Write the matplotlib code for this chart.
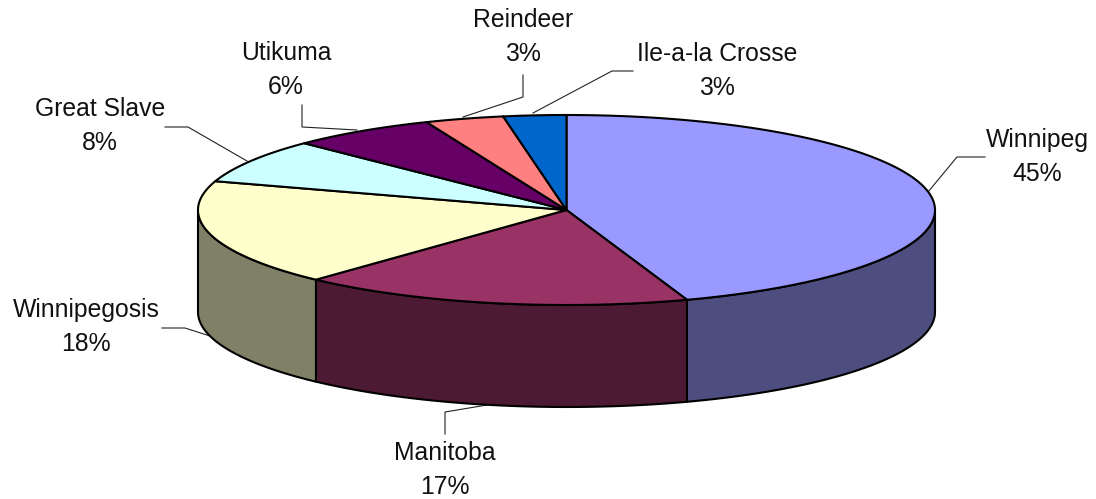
import numpy as np
import matplotlib
matplotlib.use("Agg")
import matplotlib.pyplot as plt
from matplotlib.patches import Polygon

# Data
lakes = ["Winnipeg", "Manitoba", "Winnipegosis", "Great Slave", "Utikuma", "Reindeer", "Ile-a-la Crosse"]
shares = [44.7, 17.2, 18.0, 7.5, 6.4, 3.45, 2.75]
pct_labels = ["45%", "17%", "18%", "8%", "6%", "3%", "3%"]
top_colors = ["#9999FF", "#993366", "#FFFFCC", "#CCFFFF", "#660066", "#FF8080", "#0066CC"]
side_colors = ["#4D4D80", "#4D1A33", "#808066", "#668080", "#330033", "#804040", "#003366"]

# Layout (pixel space of the figure)
W, H = 1096, 499
CX, CY, RX, RY, DEPTH = 566.5, 210.0, 368.5, 95.0, 102.0
label_pos = [(1037, 157), (445, 470), (86, 327), (100, 126), (286, 70), (523, 37), (717, 71)]
leaders = [
    [(985, 157), (957, 157), (928, 192)],
    [(445, 434), (445, 412), (487, 405)],
    [(162, 328), (185, 328), (210, 336)],
    [(165, 127), (188, 127), (247, 161)],
    [(302, 105), (302, 127), (357, 130)],
    [(523, 75), (523, 97), (463, 117)],
    [(633, 71), (612, 71), (533, 113)],
]

plt.rcParams["font.family"] = ["Liberation Sans", "DejaVu Sans"]
fig = plt.figure(figsize=(W / 100, H / 100), dpi=100, facecolor="white")
ax = fig.add_axes([0, 0, 1, 1])
ax.set_xlim(0, W)
ax.set_ylim(H, 0)
ax.axis("off")


def rim(a0, a1, dy=0.0, n=120):
    t = np.radians(np.linspace(a0, a1, n))
    return np.column_stack([CX + RX * np.cos(t), CY - RY * np.sin(t) + dy])


fracs = np.asarray(shares) / sum(shares)
edges = 90 - 360 * np.concatenate([[0], np.cumsum(fracs)])
LW = 1.5

# front side walls (only the part of the rim facing the viewer: angles -180..0)
for i in range(len(shares)):
    a_start, a_end = edges[i], edges[i + 1]
    lo, hi = max(a_end, -180), min(a_start, 0)
    if hi <= lo:
        continue
    top = rim(hi, lo)
    bot = rim(lo, hi, DEPTH)
    ax.add_patch(Polygon(np.vstack([top, bot]), closed=True, facecolor=side_colors[i],
                         edgecolor="black", lw=LW, joinstyle="round", zorder=2))

# top faces
for i in range(len(shares)):
    arc = rim(edges[i], edges[i + 1])
    ax.add_patch(Polygon(np.vstack([[(CX, CY)], arc]), closed=True, facecolor=top_colors[i],
                         edgecolor="black", lw=LW, joinstyle="round", zorder=3))

# leaders and labels
for pts in leaders:
    xs, ys = zip(*pts)
    ax.plot(xs, ys, color="#222222", lw=0.8, zorder=1, solid_joinstyle="miter")

for name, pct, (x, y) in zip(lakes, pct_labels, label_pos):
    ax.text(x, y, f"{name}\n{pct}", ha="center", va="center", fontsize=17.8,
            linespacing=1.55, color="#111111", zorder=4)

fig.savefig("out.png", dpi=100, facecolor="white")
